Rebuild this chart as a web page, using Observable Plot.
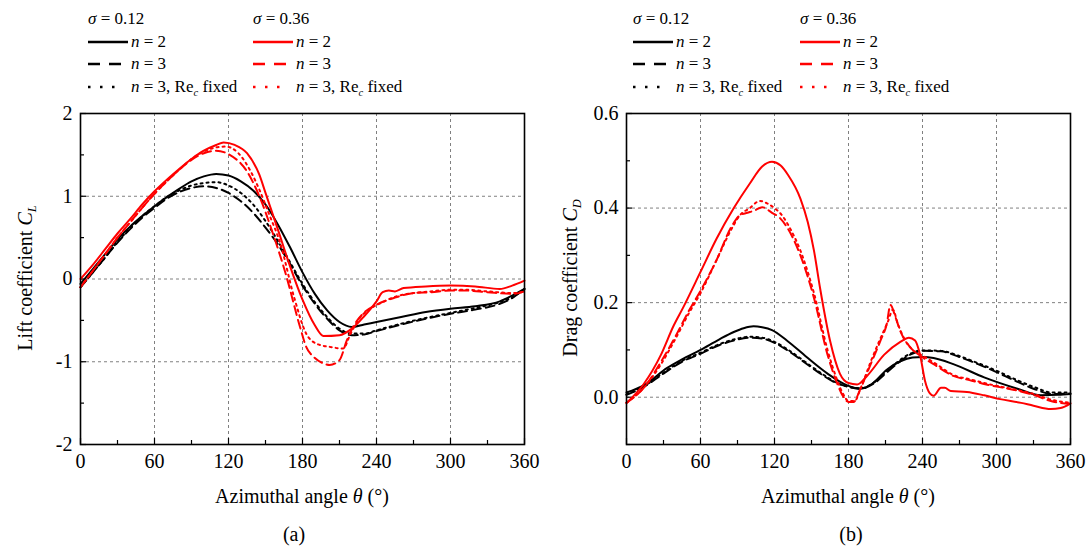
<!DOCTYPE html>
<html><head><meta charset="utf-8">
<script src="https://cdn.jsdelivr.net/npm/d3@7"></script>
<script src="https://cdn.jsdelivr.net/npm/@observablehq/plot@0.6"></script>
<style>
body{margin:0;background:#fff;font-family:"Liberation Serif","Times New Roman",serif;color:#000;}
#wrap{position:relative;width:1086px;height:547px;overflow:hidden;background:#fff;}
.abs{position:absolute;white-space:nowrap;line-height:1;}
.leg{font-size:17px;}
.ylab{font-size:20px;transform:translate(-50%,-50%) rotate(-90deg);}
.xlab{font-size:20px;transform:translate(-50%,-50%);}
.plot{position:absolute;top:100px;}
i{font-style:italic;}
sub{font-size:0.62em;vertical-align:-0.35em;line-height:0;}
</style></head><body><div id="wrap"></div>
<script>
// ---------- data ----------
const xTicks = [0, 60, 120, 180, 240, 300, 360];
const xMinor = [30, 90, 150, 210, 270, 330];
const clTicks = [-2, -1, 0, 1, 2];
const clMinor = [-1.5, -0.5, 0.5, 1.5];
const cdTicks = [0.0, 0.2, 0.4, 0.6];
const cdMinor = [-0.1, 0.1, 0.3, 0.5];

// Lift coefficient, sigma = 0.12
const clA_n2_theta = [0,10,20,30,40,50,60,70,80,90,100,110,120,130,140,150,160,170,180,190,200,210,220,230,240,260,280,300,320,340,350,360];
const clA_n2       = [-0.06,0.12,0.3,0.48,0.63,0.76,0.88,0.99,1.09,1.18,1.24,1.27,1.25,1.18,1.07,0.9,0.66,0.38,0.08,-0.18,-0.38,-0.52,-0.58,-0.55,-0.52,-0.46,-0.4,-0.36,-0.33,-0.27,-0.2,-0.12];
const clA_n3_theta = [0,10,20,30,40,50,60,70,80,90,100,110,120,130,140,150,160,170,180,190,200,210,220,230,240,260,280,300,320,340,350,360];
const clA_n3       = [-0.1,0.08,0.26,0.44,0.6,0.74,0.86,0.97,1.05,1.1,1.12,1.1,1.04,0.94,0.8,0.62,0.42,0.18,-0.08,-0.3,-0.48,-0.62,-0.68,-0.67,-0.63,-0.55,-0.48,-0.42,-0.37,-0.3,-0.23,-0.12];
const clA_fx_theta = [0,10,20,30,40,50,60,70,80,90,100,110,120,130,140,150,160,170,180,190,200,210,220,230,240,260,280,300,320,340,350,360];
const clA_fx       = [-0.1,0.08,0.26,0.45,0.61,0.76,0.88,0.99,1.07,1.13,1.16,1.17,1.13,1.04,0.9,0.7,0.46,0.2,-0.06,-0.28,-0.46,-0.6,-0.66,-0.66,-0.62,-0.54,-0.47,-0.41,-0.35,-0.28,-0.22,-0.12];
// Lift coefficient, sigma = 0.36
const clB_n2_theta = [0,10,20,30,40,50,60,70,80,90,100,110,116,125,135,145,150,160,170,180,190,197,210,220,230,240,245,250,255,262,280,300,320,340,350,360];
const clB_n2       = [0,0.17,0.36,0.55,0.72,0.9,1.06,1.2,1.33,1.45,1.55,1.62,1.65,1.62,1.52,1.26,1.04,0.6,0.15,-0.25,-0.56,-0.69,-0.68,-0.6,-0.45,-0.27,-0.16,-0.14,-0.15,-0.11,-0.09,-0.08,-0.09,-0.12,-0.08,-0.02];
const clB_n3_theta = [0,10,20,30,40,50,60,70,80,90,100,110,121,135,145,156,167,178,183,189,197,202,210,216,221,229,240,254,270,284,300,313,330,351,360];
const clB_n3       = [-0.1,0.1,0.3,0.5,0.68,0.86,1.03,1.18,1.32,1.44,1.52,1.55,1.5,1.3,1.0,0.55,0.03,-0.58,-0.82,-0.94,-1.02,-1.04,-0.98,-0.74,-0.58,-0.42,-0.31,-0.23,-0.17,-0.16,-0.14,-0.14,-0.16,-0.18,-0.15];
const clB_fx_theta = [0,10,20,30,40,50,60,70,80,90,100,110,118,128,138,145,153,162,173,183,191,202,213,219,227,235,245,256,270,284,300,313,330,351,360];
const clB_fx       = [-0.1,0.1,0.3,0.5,0.68,0.86,1.03,1.18,1.32,1.45,1.54,1.59,1.6,1.52,1.3,1.08,0.78,0.43,-0.21,-0.66,-0.78,-0.82,-0.84,-0.66,-0.46,-0.36,-0.28,-0.21,-0.17,-0.15,-0.13,-0.13,-0.15,-0.17,-0.15];

// Drag coefficient, sigma = 0.12
const cdA_n2_theta = [0,14,33,45,60,75,87,95,103,110,118,130,146,163,179,190,200,211,222,232,240,249,265,290,317,336,350,360];
const cdA_n2       = [0.01,0.025,0.062,0.08,0.1,0.122,0.138,0.146,0.15,0.148,0.142,0.12,0.085,0.05,0.025,0.018,0.03,0.058,0.076,0.084,0.085,0.083,0.07,0.042,0.018,0.004,0.005,0.007];
const cdA_n3_theta = [0,14,30,45,60,75,87,100,110,120,130,140,150,160,170,180,190,200,210,220,230,240,255,270,285,300,315,330,345,360];
const cdA_n3       = [0.005,0.022,0.05,0.075,0.092,0.11,0.12,0.126,0.124,0.115,0.1,0.082,0.063,0.045,0.03,0.022,0.018,0.028,0.05,0.072,0.09,0.098,0.097,0.085,0.07,0.053,0.035,0.018,0.007,0.008];
const cdA_fx_theta = [0,14,30,45,60,75,87,100,110,120,130,140,150,160,170,180,190,200,210,220,230,240,255,270,285,300,315,330,345,360];
const cdA_fx       = [0.006,0.023,0.052,0.077,0.094,0.112,0.122,0.128,0.126,0.117,0.102,0.084,0.065,0.047,0.031,0.022,0.019,0.03,0.053,0.075,0.092,0.099,0.098,0.087,0.072,0.056,0.038,0.022,0.01,0.01];
// Drag coefficient, sigma = 0.36
const cdB_n2_theta = [0,14,28,38,46,60,73,87,100,110,118,125,131,141,147,152,157,165,173,180,187,195,209,222,229,234,238,242,246,249,255,258,263,276,290,303,320,330,344,352,360];
const cdB_n2       = [-0.012,0.028,0.09,0.15,0.19,0.265,0.335,0.4,0.452,0.488,0.498,0.49,0.47,0.42,0.37,0.31,0.23,0.12,0.05,0.03,0.027,0.045,0.09,0.117,0.126,0.12,0.09,0.035,0.008,0.003,0.02,0.02,0.013,0.011,0.004,-0.004,-0.012,-0.018,-0.025,-0.023,-0.013];
const cdB_n3_theta = [0,14,28,40,50,60,73,85,92,98,104,110,118,124,130,141,152,163,171,176,180,184,190,198,206,211,214,218,222,230,238,249,265,280,290,317,330,344,360];
const cdB_n3       = [-0.012,0.02,0.075,0.13,0.18,0.225,0.29,0.36,0.385,0.39,0.395,0.402,0.39,0.38,0.36,0.3,0.21,0.09,0.028,0.0,-0.01,-0.01,0.02,0.07,0.12,0.155,0.195,0.17,0.14,0.106,0.088,0.07,0.045,0.035,0.028,0.014,0.005,-0.008,-0.014];
const cdB_fx_theta = [0,14,28,40,50,60,73,85,92,100,108,114,120,126,132,141,152,163,171,176,180,185,190,198,206,212,216,220,226,232,240,250,265,280,290,317,330,344,360];
const cdB_fx       = [-0.012,0.02,0.07,0.125,0.175,0.22,0.29,0.355,0.385,0.4,0.415,0.41,0.4,0.385,0.36,0.31,0.22,0.1,0.035,0.005,-0.008,-0.008,0.02,0.075,0.125,0.16,0.185,0.155,0.12,0.1,0.088,0.072,0.047,0.037,0.03,0.015,0.007,-0.005,-0.012];

const BLACK = "#000000", RED = "#ff0000";
const DASH = "9,5", DOT = "2,4";

function rows(th, v) { return th.map((t, i) => ({theta: t, v: v[i]})); }

const wrap = document.getElementById("wrap");

function panel(o) {
  const W = 543, H = 410, mT = 13, mB = 66;
  const pw = W - o.mL - o.mR, ph = H - mT - mB;
  const grid = {stroke: "#808080", strokeOpacity: 1, strokeWidth: 1, strokeDasharray: "3,3"};
  const lineMarks = o.series.map(s => Plot.line(rows(s.th, s.v), {
    x: "theta", y: "v", stroke: s.color, strokeWidth: 2, strokeDasharray: s.dash, curve: "monotone-x"
  }));
  const svg = Plot.plot({
    width: W, height: H, marginLeft: o.mL, marginRight: o.mR, marginTop: mT, marginBottom: mB,
    style: {fontFamily: "'Liberation Serif','Times New Roman',serif", fontSize: "20px", color: "#000", background: "transparent"},
    x: {domain: [0, 360]},
    y: {domain: o.yDomain},
    marks: [
      Plot.gridX(xTicks.slice(1, -1), grid),
      Plot.gridY(o.yTicks.filter(t => t > o.yDomain[0] && t < o.yDomain[1]), grid),
      Plot.tickX(xMinor, {x: d => d, insetTop: ph - 4, stroke: "#000", strokeWidth: 1.2}),
      Plot.tickX(xTicks, {x: d => d, insetTop: ph - 6, stroke: "#000", strokeWidth: 1.2}),
      Plot.tickY(o.yMinor, {y: d => d, insetRight: pw - 4, stroke: "#000", strokeWidth: 1.2}),
      Plot.tickY(o.yTicks, {y: d => d, insetRight: pw - 6, stroke: "#000", strokeWidth: 1.2}),
      ...lineMarks,
      Plot.frame({stroke: "#000", strokeWidth: 1.6}),
      Plot.axisX(xTicks, {tickSize: 0, tickPadding: 9, fontSize: 20, label: null}),
      Plot.axisY(o.yTicks, {tickSize: 0, tickPadding: 8, fontSize: 20, label: null, tickFormat: o.fmt})
    ]
  });
  svg.classList.add("plot");
  svg.style.left = o.left + "px";
  wrap.appendChild(svg);
}

panel({
  left: 0, mL: 80, mR: 19, yDomain: [-2, 2], yTicks: clTicks, yMinor: clMinor, fmt: d => String(d),
  series: [
    {th: clA_n2_theta, v: clA_n2, color: BLACK, dash: null},
    {th: clA_n3_theta, v: clA_n3, color: BLACK, dash: DASH},
    {th: clA_fx_theta, v: clA_fx, color: BLACK, dash: DOT},
    {th: clB_n2_theta, v: clB_n2, color: RED, dash: null},
    {th: clB_n3_theta, v: clB_n3, color: RED, dash: DASH},
    {th: clB_fx_theta, v: clB_fx, color: RED, dash: DOT}
  ]
});
panel({
  left: 543, mL: 83, mR: 16, yDomain: [-0.1, 0.6], yTicks: cdTicks, yMinor: cdMinor, fmt: d3.format(".1f"),
  series: [
    {th: cdA_n2_theta, v: cdA_n2, color: BLACK, dash: null},
    {th: cdA_n3_theta, v: cdA_n3, color: BLACK, dash: DASH},
    {th: cdA_fx_theta, v: cdA_fx, color: BLACK, dash: DOT},
    {th: cdB_n2_theta, v: cdB_n2, color: RED, dash: null},
    {th: cdB_n3_theta, v: cdB_n3, color: RED, dash: DASH},
    {th: cdB_fx_theta, v: cdB_fx, color: RED, dash: DOT}
  ]
});

// ---------- legends & labels (HTML) ----------
function addHTML(cls, x, y, html) {
  const d = document.createElement("div");
  d.className = "abs " + cls;
  d.style.left = x + "px"; d.style.top = y + "px";
  d.innerHTML = html;
  wrap.appendChild(d);
  return d;
}
function sample(x, y, color, kind) {
  const ns = "http://www.w3.org/2000/svg";
  const s = document.createElementNS(ns, "svg");
  s.setAttribute("width", 42); s.setAttribute("height", 8);
  s.style.position = "absolute"; s.style.left = x + "px"; s.style.top = (y - 4) + "px";
  const l = document.createElementNS(ns, "line");
  l.setAttribute("y1", 4); l.setAttribute("y2", 4);
  l.setAttribute("stroke", color);
  if (kind === "solid") { l.setAttribute("x1", 0); l.setAttribute("x2", 40); l.setAttribute("stroke-width", 2.6); }
  if (kind === "dash") { l.setAttribute("x1", 0); l.setAttribute("x2", 33); l.setAttribute("stroke-width", 2.6); l.setAttribute("stroke-dasharray", "12,9"); }
  if (kind === "dot") { l.setAttribute("x1", 0); l.setAttribute("x2", 28); l.setAttribute("stroke-width", 2.6); l.setAttribute("stroke-dasharray", "2.5,9.5"); }
  s.appendChild(l);
  wrap.appendChild(s);
}
const legendSigma = ["0.12", "0.36"];
const legendLabels = ["<i>n</i> = 2", "<i>n</i> = 3", "<i>n</i> = 3, Re<sub><i>c</i></sub> fixed"];
const legendKinds = ["solid", "dash", "dot"];
const rowY = [19, 42, 64, 87];
[[88, 253], [633, 800]].forEach(cols => {
  cols.forEach((cx, ci) => {
    const color = ci === 0 ? BLACK : RED;
    addHTML("leg", cx, rowY[0] - 9, "<i>σ</i> = " + legendSigma[ci]);
    legendLabels.forEach((lab, li) => {
      sample(cx, rowY[li + 1], color, legendKinds[li]);
      addHTML("leg", cx + 43, rowY[li + 1] - 9, lab);
    });
  });
});

addHTML("ylab", 25, 278, "Lift coefficient <i>C</i><sub><i>L</i></sub>");
addHTML("ylab", 570, 278, "Drag coefficient <i>C</i><sub><i>D</i></sub>");
addHTML("xlab", 302, 496, "Azimuthal angle <i>θ</i> (°)");
addHTML("xlab", 848, 496, "Azimuthal angle <i>θ</i> (°)");
addHTML("xlab", 294, 534, "(a)");
addHTML("xlab", 851, 534, "(b)");
</script>
</body></html>
